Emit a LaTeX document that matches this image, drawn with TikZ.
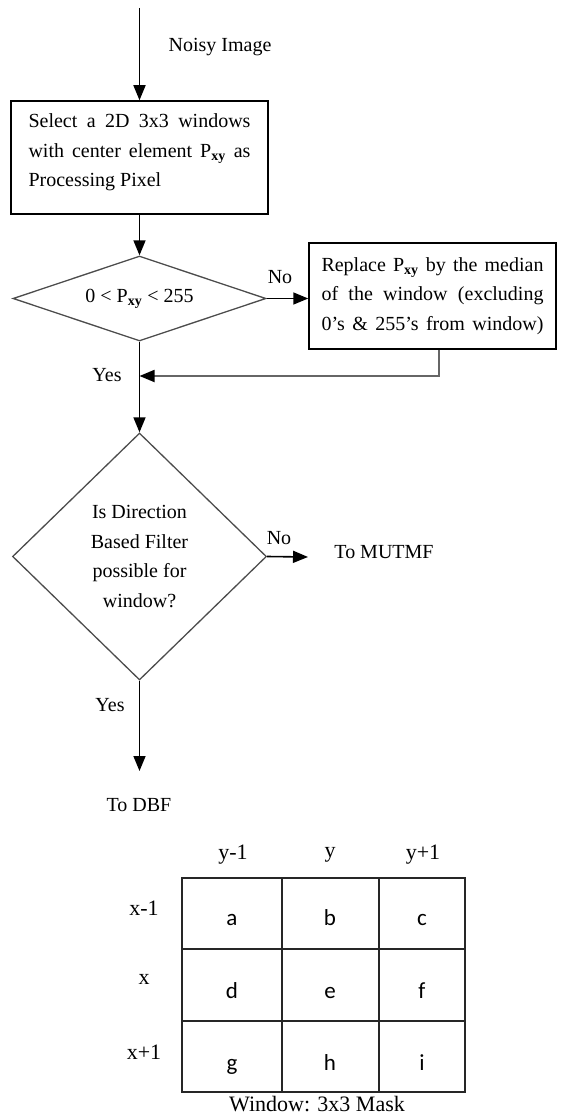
\documentclass[tikz,border=0pt]{standalone}
\usepackage{fontspec}
\setmainfont{Liberation Serif}
\newfontfamily\cellfont{Carlito}
\usetikzlibrary{shapes.geometric,arrows.meta}
\newcommand\jl[2][222pt]{\makebox[#1][s]{#2}}
\newcommand\Pxy{P\textsubscript{\textbf{xy}}}
\begin{document}
\begin{tikzpicture}[x=1pt,y=-1pt,
  flow/.style={font=\fontsize{20}{29.5}\selectfont},
  box/.style={draw=black,line width=1.5pt,inner sep=0pt},
  dia/.style={draw=black!70,line width=1.3pt,diamond,flow,inner sep=0pt},
  arr/.style={line width=1.6pt,-{Triangle[length=15pt,width=12pt]}},
  fb/.style={draw=black!60,line width=1.8pt,-{Triangle[length=15pt,width=12pt,color=black]}},
  lbl/.style={flow,inner sep=0pt},
  tlbl/.style={font=\fontsize{22}{25}\selectfont,inner sep=0pt},
  cell/.style={font=\cellfont\fontsize{23}{26}\selectfont,inner sep=0pt,anchor=base},
  grid/.style={draw=black!85,line width=2.2pt}]
\useasboundingbox (0,0) rectangle (562,1115);

% flowchart
\coordinate (src) at (139.5,8);
\node[lbl] (noisy) at (220,47) {Noisy Image};
\node[box,minimum width=257pt,minimum height=113pt] (b1) at (139.5,157.5) {};
\node[lbl,align=left] (b1t) at ([yshift=5pt]b1.center) {\jl{Select a 2D 3x3 windows}\\\jl{with center element \Pxy{} as}\\Processing Pixel};
\node[dia,minimum width=253pt,minimum height=85pt,aspect=3] (d1) at (139.5,298.5) {0 < \Pxy{} < 255};
\node[box,minimum width=247pt,minimum height=106pt] (b2) at (432.5,296) {};
\node[lbl,align=left] (b2t) at (b2.center) {\jl{Replace \Pxy{} by the median}\\\jl{of the window (excluding}\\\jl{0’s \& 255’s from window)}};
\node[lbl] (no1) at (280,277) {No};
\coordinate (j) at (139.5,376);
\node[lbl] (yes1) at (107,375) {Yes};
\node[dia,minimum width=254pt,minimum height=247pt,align=center] (d2) at (139.5,556.5) {Is Direction\\Based Filter\\possible for\\window?};
\node[lbl] (no2) at (279,538) {No};
\coordinate (mutend) at (308,557);
\node[lbl] (mut) at (384,552) {To MUTMF};
\node[lbl] (yes2) at (110,705) {Yes};
\coordinate (dbfend) at (139.5,771);
\node[lbl] (dbf) at (139,805) {To DBF};

\draw[arr] (src) -- (b1.north);
\draw[arr] (b1.south) -- (d1.north);
\draw[arr] (d1.east) -- (d1.east -| b2.west);
\draw[fb] ([xshift=6.5pt]b2.south) |- (j);
\draw[line width=1.6pt] (d1.south) -- (j);
\draw[arr] (j) -- (d2.north);
\draw[arr] (d2.east) -- (mutend);
\draw[arr] (d2.south) -- (dbfend);

% window table
\draw[grid] (181.7,878) rectangle (465,1092);
\draw[grid] (281.7,878) -- (281.7,1092);
\draw[grid] (379,878) -- (379,1092);
\draw[grid] (181.7,949) -- (465,949);
\draw[grid] (181.7,1021) -- (465,1021);

\node[tlbl] (hy1) at (233,855) {y-1};
\node[tlbl] (hy) at (330,855) {y};
\node[tlbl] (hy2) at (423,855) {y+1};
\node[tlbl] (rx1) at (144,908) {x-1};
\node[tlbl] (rx) at (144,979) {x};
\node[tlbl] (rx2) at (144,1052) {x+1};

\node[cell] (ca) at (232,925) {a};
\node[cell] (cb) at (330,925) {b};
\node[cell] (cc) at (422,925) {c};
\node[cell] (cd) at (232,998) {d};
\node[cell] (ce) at (330,998) {e};
\node[cell] (cf) at (422,998) {f};
\node[cell] (cg) at (232,1070) {g};
\node[cell] (ch) at (330,1070) {h};
\node[cell] (ci) at (422,1070) {i};

\node[tlbl,anchor=base] (cap) at (317,1111) {Window: 3x3 Mask};
\end{tikzpicture}
\end{document}
